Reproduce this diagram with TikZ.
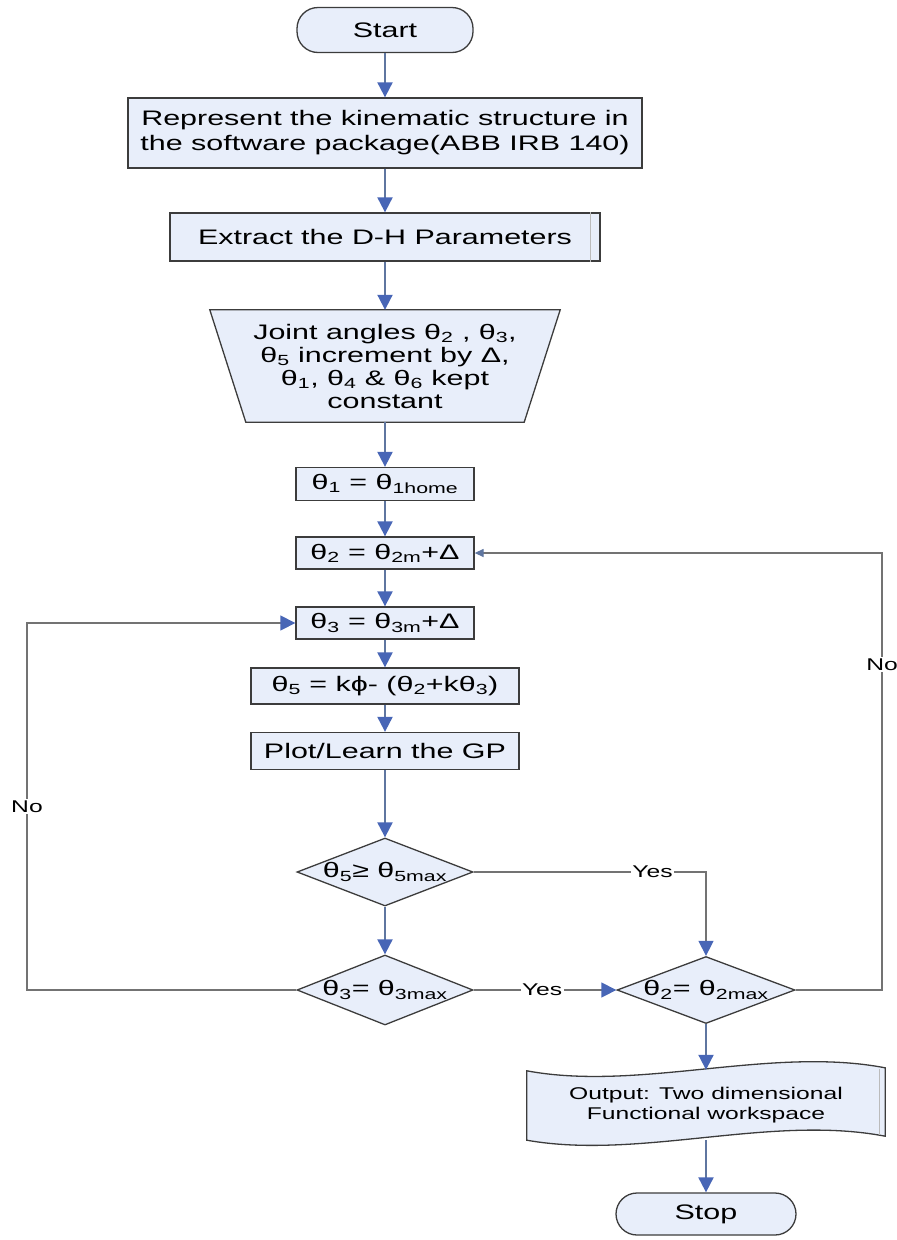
\documentclass[tikz,border=0pt]{standalone}
\usepackage{fontspec}
\setmainfont{Liberation Sans}[FakeStretch=1.45]
\usetikzlibrary{arrows.meta,shapes.geometric,backgrounds,calc}

\definecolor{boxfill}{RGB}{232,238,250}
\definecolor{boxline}{RGB}{60,60,60}
\definecolor{flowline}{RGB}{95,118,160}
\definecolor{headblue}{RGB}{72,102,182}
\definecolor{loopline}{RGB}{115,115,115}

\begin{document}
\begin{tikzpicture}[x=1pt,y=-1pt,
  shapeline/.style={draw=boxline, fill=boxfill, line width=1.3pt},
  base/.style={shapeline, inner sep=0pt, align=center, font=\fontsize{21}{25}\selectfont},
  procbox/.style={base, rectangle},
  termbox/.style={base, rectangle, rounded corners=21pt},
  decbox/.style={base, diamond},
  ghost/.style={inner sep=0pt, align=center},
  bighead/.style={-{Triangle[length=15pt,width=15pt,color=headblue]}},
  smallhead/.style={-{Triangle[length=9pt,width=8pt,color=flowline]}},
  flow/.style={draw=flowline, line width=2pt, bighead},
  loopline/.style={draw=loopline, line width=1.3pt},
  lbl/.style={fill=white, inner sep=1.5pt, font=\fontsize{17}{19}\selectfont},
]
\useasboundingbox (0,0) rectangle (897,1240);

% main column
\node[termbox, minimum width=176pt, minimum height=45pt] (start) at (385,30) {Start};
\node[procbox, minimum width=514pt, minimum height=70pt] (rep) at (385,133)
  {Represent the kinematic structure in\\ the software package(ABB IRB 140)};
\node[procbox, minimum width=430pt, minimum height=48pt] (dh) at (385,237)
  {Extract the D-H Parameters};
\draw[boxline!35, line width=0.8pt] ([xshift=-10pt]dh.north east) -- ([xshift=-10pt]dh.south east);

% manual-input trapezoid (wide side on top)
\node[ghost, minimum width=350pt, minimum height=112pt, font=\fontsize{21}{23}\selectfont] (joint) at (385,366)
  {Joint angles θ\textsubscript{2} , θ\textsubscript{3},\\
   θ\textsubscript{5} increment by Δ,\\
   θ\textsubscript{1}, θ\textsubscript{4} \& θ\textsubscript{6} kept\\
   constant};
\begin{scope}[on background layer]
  \draw[shapeline] (joint.north west) -- (joint.north east)
    -- ([xshift=-36pt]joint.south east) -- ([xshift=36pt]joint.south west) -- cycle;
\end{scope}

\node[procbox, minimum width=178pt, minimum height=33pt] (th1) at (385,484)
  {θ\textsubscript{1} = θ\textsubscript{1home}};
\node[procbox, minimum width=178pt, minimum height=32pt] (th2) at (385,553)
  {θ\textsubscript{2} = θ\textsubscript{2m}+Δ};
\node[procbox, minimum width=178pt, minimum height=32pt] (th3) at (385,623)
  {θ\textsubscript{3} = θ\textsubscript{3m}+Δ};
\node[procbox, minimum width=268pt, minimum height=36pt] (th5) at (385,686)
  {θ\textsubscript{5} = kϕ- (θ\textsubscript{2}+kθ\textsubscript{3})};
\node[procbox, minimum width=268pt, minimum height=37pt] (plot) at (385,751)
  {Plot/Learn the GP};

% decisions
\node[decbox, minimum width=176pt, minimum height=68pt] (d1) at (385,872)
  {\makebox[0pt]{θ\textsubscript{5}≥ θ\textsubscript{5max}}};
\node[decbox, minimum width=176pt, minimum height=70pt] (d2) at (385,990)
  {\makebox[0pt]{θ\textsubscript{3}= θ\textsubscript{3max}}};
\node[decbox, minimum width=178pt, minimum height=67pt] (d3) at (706,990)
  {\makebox[0pt]{θ\textsubscript{2}= θ\textsubscript{2max}}};

% output document with wavy top and bottom
\node[ghost, minimum width=358pt, minimum height=70pt, font=\fontsize{17}{19.5}\selectfont] (out) at (706,1105)
  {Output: Two dimensional\\ Functional workspace};
\begin{scope}[on background layer]
  \draw[shapeline]
    ($(out.north west)+(0,1)$)
      .. controls ($(out.north west)+(113,22)$) and ($(out.north east)+(-115,-24)$)
      .. ($(out.north east)+(0,-2)$)
    -- ($(out.south east)+(0,-4)$)
      .. controls ($(out.south east)+(-115,-26)$) and ($(out.south west)+(113,20)$)
      .. (out.south west)
    -- cycle;
\end{scope}
\draw[boxline!35, line width=0.8pt] ($(out.north east)+(-6,-1)$) -- ($(out.south east)+(-6,-5)$);

\node[termbox, minimum width=180pt, minimum height=42pt] (stop) at (706,1214) {Stop};

% rails for the return loops
\coordinate (leftrail) at (27,0);
\coordinate (rightrail) at (882,0);

% main flow
\draw[flow] (start) -- (rep);
\draw[flow] (rep) -- (dh);
\draw[flow] (dh) -- (joint.north);
\draw[flow] (joint.south) -- (th1);
\draw[flow] (th1) -- (th2);
\draw[flow] (th2) -- (th3);
\draw[flow] (th3) -- (th5);
\draw[flow] (th5) -- (plot);
\draw[flow] (plot) -- (d1);
\draw[flow] (d1) -- (d2);
\draw[flow] (d3) -- (out.north);
\draw[flow] (out.south) -- (stop);

% branches
\draw[loopline, bighead] (d1.east) -| node[lbl, pos=0.385] {Yes} (d3.north);
\draw[loopline, bighead] (d2.east) -- node[lbl, pos=0.48] {Yes} (d3.west);
\draw[loopline, bighead] (d2.west) -- (d2.west -| leftrail)
  |- node[lbl, pos=0.25] {No} (th3.west);
\draw[loopline, smallhead] (d3.east) -- (d3.east -| rightrail)
  |- node[lbl, pos=0.372] {No} (th2.east);
\end{tikzpicture}
\end{document}
